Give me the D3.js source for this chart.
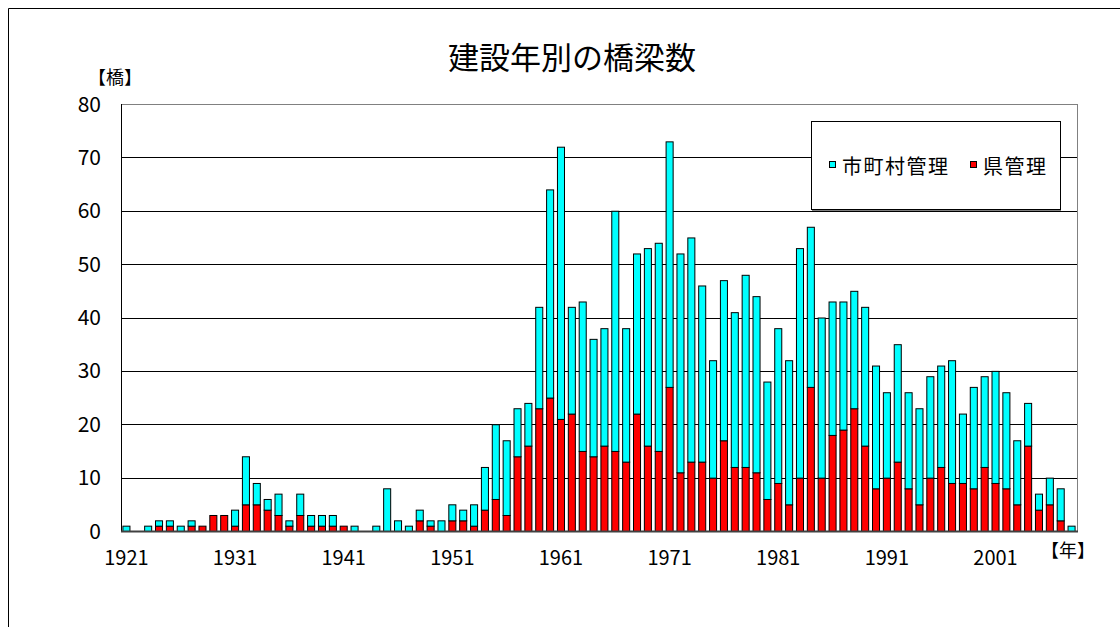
<!DOCTYPE html>
<html><head><meta charset="utf-8">
<script src="https://cdn.jsdelivr.net/npm/d3@7"></script>
<style>
html,body{margin:0;padding:0;background:#fff;}
text{font-family:"Noto Sans CJK JP","Noto Sans",sans-serif;fill:#000;}
</style></head>
<body><svg id="c" width="1120" height="627"></svg>
<script>
const years = d3.range(1921, 2009);
const totalCounts = [
 1,0,1,2,2,1,2,1,3,3,
 4,14,9,6,7,2,7,3,3,3,
 1,1,0,1,8,2,1,4,2,2,
 5,4,5,12,20,17,23,24,42,64,
 72,42,43,36,38,60,38,52,53,54,
 73,52,55,46,32,47,41,48,44,28,
 38,32,53,57,40,43,43,45,42,31,
 26,35,26,23,29,31,32,22,27,29,
 30,26,17,24,7,10,8,1];
const prefCounts = [
 0,0,0,1,1,0,1,1,3,3,
 1,5,5,4,3,1,3,1,1,1,
 1,0,0,0,0,0,0,2,1,0,
 2,2,1,4,6,3,14,16,23,25,
 21,22,15,14,16,15,13,22,16,15,
 27,11,13,13,10,17,12,12,11,6,
 9,5,10,27,10,18,19,23,16,8,
 10,13,8,5,10,12,9,9,8,12,
 9,8,5,16,4,5,2,0];
const muniCounts = totalCounts.map((t,i)=>t-prefCounts[i]);
const seriesNames = ["市町村管理","県管理"];
const seriesColors = ["#00FFFF","#FF0000"];
const yTicks = [0,10,20,30,40,50,60,70,80];
const xTickYears = [1921,1931,1941,1951,1961,1971,1981,1991,2001];

const svg = d3.select("#c");
// outer frame
svg.append("path").attr("d","M8.5,640 L8.5,8.5 L1130,8.5").attr("fill","none").attr("stroke","#000").attr("stroke-width",1);

const L=121, R=1077, T=104, B=531;
const x = d3.scaleBand().domain(years).range([L,R]).paddingInner(0.26).paddingOuter(0.13);
const y = d3.scaleLinear().domain([0,80]).range([B,T]);

// plot border
svg.append("rect").attr("x",L+0.5).attr("y",T+0.5).attr("width",R-L).attr("height",B-T)
  .attr("fill","#fff").attr("stroke","#808080").attr("stroke-width",1);

// gridlines
svg.append("g").selectAll("line").data(yTicks.filter(d=>d>0)).join("line")
  .attr("x1",L).attr("x2",R).attr("y1",d=>Math.round(y(d))+0.5).attr("y2",d=>Math.round(y(d))+0.5)
  .attr("stroke",d=>d===80?"#808080":"#000").attr("stroke-width",1);

// stacked bars
const stackData = years.map((yr,i)=>({year:yr, pref:prefCounts[i], muni:muniCounts[i]}));
const stack = d3.stack().keys(["pref","muni"])(stackData);
const colorFor = {pref:seriesColors[1], muni:seriesColors[0]};
stack.forEach(layer=>{
  svg.append("g").selectAll("rect").data(layer.filter(d=>d[1]-d[0]>0)).join("rect")
    .attr("x",d=>x(d.data.year)+0.5)
    .attr("y",d=>y(d[1])+0.5)
    .attr("width",x.bandwidth()-1)
    .attr("height",d=>y(d[0])-y(d[1]))
    .attr("fill",colorFor[layer.key])
    .attr("stroke","#000").attr("stroke-width",1);
});

// axes lines
svg.append("line").attr("x1",L+0.5).attr("x2",L+0.5).attr("y1",T).attr("y2",B+1).attr("stroke","#000");
svg.append("line").attr("x1",L).attr("x2",R+1).attr("y1",B+0.5).attr("y2",B+0.5).attr("stroke","#404040").attr("stroke-width",2);

// y labels
svg.append("g").selectAll("text").data(yTicks).join("text")
  .attr("x",101).attr("y",d=>y(d)).attr("dy","0.36em").attr("text-anchor","end")
  .style("font-size","21px").text(d=>d);

// x labels
svg.append("g").selectAll("text").data(xTickYears).join("text")
  .attr("x",d=>x(d)+x.bandwidth()/2).attr("y",565).attr("text-anchor","middle")
  .style("font-size","20px").text(d=>d);

// title & unit labels
svg.append("text").attr("x",572).attr("y",69).attr("text-anchor","middle")
  .style("font-size","31px").text("建設年別の橋梁数");
svg.append("text").attr("x",115).attr("y",84).attr("text-anchor","middle")
  .style("font-size","18px").text("【橋】");
svg.append("text").attr("x",1068).attr("y",557).attr("text-anchor","middle")
  .style("font-size","18px").text("【年】");

// legend
const lg = svg.append("g");
lg.append("rect").attr("x",811.5).attr("y",121.5).attr("width",249).attr("height",88)
  .attr("fill","#fff").attr("stroke","#000").attr("stroke-width",1);
lg.append("line").attr("x1",812).attr("x2",1061).attr("y1",210).attr("y2",210).attr("stroke","#000").attr("stroke-width",1);
const legendItems = [{name:seriesNames[0],color:seriesColors[0],x:829,tx:842},{name:seriesNames[1],color:seriesColors[1],x:970,tx:983}];
legendItems.forEach(it=>{
  lg.append("rect").attr("x",it.x+0.5).attr("y",161.5).attr("width",6).attr("height",6)
    .attr("fill",it.color).attr("stroke","#000");
  lg.append("text").attr("x",it.tx).attr("y",167).attr("dy","0.35em")
    .style("font-size","20px").style("letter-spacing","1.5px").text(it.name);
});
</script></body></html>
